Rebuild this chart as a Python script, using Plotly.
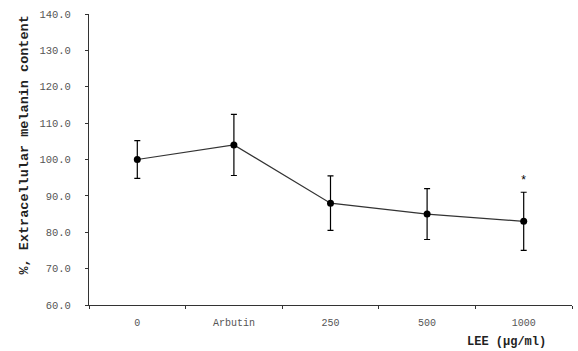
import plotly.graph_objects as go

categories = ["0", "Arbutin", "250", "500", "1000"]
values = [100.0, 104.0, 88.0, 85.0, 83.0]
errors = [5.2, 8.4, 7.5, 7.0, 8.0]
star_y = 94.0
y_ticks = [60, 70, 80, 90, 100, 110, 120, 130, 140]

fig = go.Figure()
fig.add_trace(go.Scatter(
    x=categories, y=values, mode="lines+markers",
    line=dict(color="#333333", width=1.2),
    marker=dict(color="black", size=7),
    error_y=dict(type="data", array=errors, visible=True,
                 color="black", thickness=1.2, width=3),
    showlegend=False,
))

fig.add_annotation(x=4, y=star_y, text="*", showarrow=False,
                   font=dict(family="Liberation Mono", size=12, color="black"),
                   xref="x", yref="y")
fig.add_annotation(x=14, y=145, xref="paper", yref="paper",
                   text="<b>%, Extracellular melanin content</b>", textangle=-90,
                   showarrow=False,
                   font=dict(family="Liberation Mono", size=13.5, color="#222222"))
fig.add_annotation(x=465, y=0, xref="paper", yref="paper",
                   text="<b>LEE (μg/ml)</b>", showarrow=False,
                   xanchor="left", yanchor="bottom",
                   font=dict(family="Liberation Mono", size=12, color="#222222"))

# convert pixel positions to paper coordinates
L, R, T, B, W, H = 89, 6, 14, 46, 578, 351
pw, ph = W - L - R, H - T - B
a = fig.layout.annotations
a[1].update(x=(14 - L) / pw, y=(H - B - 145) / ph)
a[2].update(x=(465 - L) / pw, y=(H - B - 351) / ph)

fig.update_layout(
    width=W, height=H,
    margin=dict(l=L, r=R, t=T, b=B),
    paper_bgcolor="white", plot_bgcolor="white",
    xaxis=dict(type="category", range=[-0.5, 4.5], tickson="boundaries",
               ticks="outside", ticklen=3, tickcolor="#333333",
               ticklabelstandoff=8,
               showline=True, linecolor="#333333", linewidth=1,
               showgrid=False, zeroline=False,
               tickfont=dict(family="Liberation Mono", size=10, color="#555555")),
    yaxis=dict(range=[60, 140], tickvals=y_ticks, tickformat=".1f",
               ticks="outside", ticklen=3, tickcolor="#333333",
               ticklabelstandoff=12,
               showline=True, linecolor="#333333", linewidth=1,
               showgrid=False, zeroline=False,
               tickfont=dict(family="Liberation Mono", size=10.5, color="#555555")),
)

fig.write_html("out.html")
